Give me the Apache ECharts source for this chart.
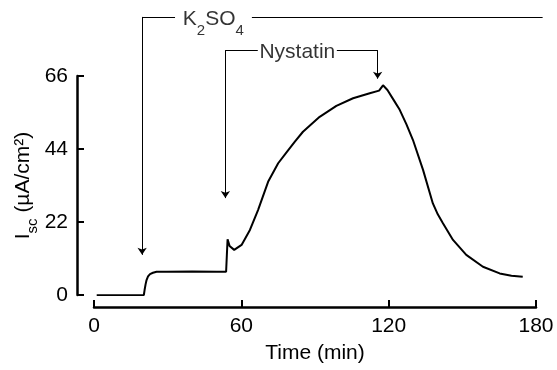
<!DOCTYPE html>
<html>
<head>
<meta charset="utf-8">
<script src="https://cdn.jsdelivr.net/npm/echarts@6/dist/echarts.min.js"></script>
<style>
  html, body { margin: 0; padding: 0; background: #fff; }
  #main { width: 557px; height: 370px; }
</style>
</head>
<body>
<div id="main"></div>
<script>
'use strict';

// time (min) and short-circuit current (uA/cm2)
const timeMin = [1.1, 10, 20.3, 20.6, 21.0, 21.4, 22.0, 22.8, 24.0, 25.5, 29.6, 40, 50, 53.8,
  54.1, 54.4, 55.2, 57.1, 60.1, 63.5, 66.8, 70.9, 75.0, 78.4, 81.8, 85.1, 91.9, 98.7, 105.5,
  112.3, 116.1, 117.7, 119.5, 122, 124.5, 127.2, 129.9, 134.0, 138.0, 140.0, 142.1, 146.2,
  151.6, 158.4, 165.2, 170.0, 174.6];
const iscValues = [-0.1, -0.1, 0.0, 1.5, 3.2, 4.5, 5.6, 6.3, 6.7, 7.0, 7.0, 7.1, 7.0, 7.0,
  12, 16.8, 14.8, 13.6, 15.1, 19.6, 25.6, 34.1, 39.7, 43.0, 46.2, 49.2, 53.7, 57.0, 59.3,
  60.8, 61.6, 63.2, 61.8, 58.8, 55.8, 51.5, 46.7, 37.7, 27.6, 24.3, 21.6, 16.6,
  12.1, 8.5, 6.5, 5.8, 5.5];

const xTicks = [0, 60, 120, 180];
const yTicks = [0, 22, 44, 66];

// annotation segments, in data units (time, current); the arrow segments end in an arrowhead
const bracketLines = [
  [[33.0, 83.8], [19.6, 83.8]],
  [[64.3, 83.8], [182.7, 83.8]],
  [[66.7, 73.8], [53.5, 73.8]],
  [[98.9, 73.8], [115.5, 73.8]]
];
const bracketArrows = [
  [[19.6, 83.8], [19.6, 12.1]],
  [[53.5, 73.8], [53.5, 29.2]],
  [[115.5, 73.8], [115.5, 65.2]]
];
const annotationLabels = [
  { name: 'K2SO4', value: [48.6, 83.8], text: '{n|K}{s|2}{n|SO}{s|4}' },
  { name: 'Nystatin', value: [82.8, 73.8], text: '{n|Nystatin}' }
];

const font = 'Liberation Sans, Arial, Helvetica, sans-serif';

const curve = timeMin.map((t, i) => [t, iscValues[i]]);

const labelRich = {
  n: { fontSize: 21, fontFamily: font, color: '#000', lineHeight: 24, verticalAlign: 'top' },
  s: { fontSize: 15, fontFamily: font, color: '#000', lineHeight: 24, padding: [14, 0, 0, 0], verticalAlign: 'top' }
};

function segments(list, arrow) {
  return {
    type: 'lines',
    coordinateSystem: 'cartesian2d',
    clip: false,
    silent: true,
    symbol: arrow ? ['none', 'arrow'] : ['none', 'none'],
    symbolSize: 7,
    lineStyle: { color: '#000', width: 1, opacity: 1, curveness: 0 },
    data: list.map(c => ({ coords: c }))
  };
}

const chart = echarts.init(document.getElementById('main'));

chart.setOption({
  animation: false,
  backgroundColor: '#fff',
  grid: { left: 94, right: 21, top: 76, bottom: 75, outerBoundsMode: 'none', containLabel: false },
  xAxis: {
    type: 'value',
    min: xTicks[0],
    max: xTicks[xTicks.length - 1],
    interval: 60,
    offset: 12,
    name: 'Time (min)',
    nameLocation: 'middle',
    nameGap: 36,
    nameMoveOverlap: false,
    nameTextStyle: { fontSize: 21, fontFamily: font, color: '#000' },
    axisLine: { onZero: false, lineStyle: { color: '#000', width: 2.5 } },
    axisTick: { inside: true, length: 7, lineStyle: { color: '#000', width: 2 } },
    axisLabel: { fontSize: 21, fontFamily: font, color: '#000', margin: 9 },
    splitLine: { show: false }
  },
  yAxis: {
    type: 'value',
    min: yTicks[0],
    max: yTicks[yTicks.length - 1],
    interval: 22,
    offset: 17,
    name: '{n|I}{s|sc}{n| (µA/cm²)}',
    nameLocation: 'middle',
    nameRotate: 90,
    nameGap: 40,
    nameMoveOverlap: false,
    nameTextStyle: {
      rich: {
        n: { fontSize: 21, fontFamily: font, color: '#000', lineHeight: 24, verticalAlign: 'top' },
        s: { fontSize: 15, fontFamily: font, color: '#000', lineHeight: 24, padding: [12, 0, 0, 0], verticalAlign: 'top' }
      }
    },
    axisLine: { show: true, onZero: false, lineStyle: { color: '#000', width: 2.5 } },
    axisTick: { show: true, inside: true, length: 7, lineStyle: { color: '#000', width: 2 } },
    axisLabel: { fontSize: 21, fontFamily: font, color: '#000', margin: 9 },
    splitLine: { show: false }
  },
  series: [
    {
      type: 'line',
      data: curve,
      showSymbol: false,
      smooth: false,
      lineStyle: { color: '#000', width: 2 },
      silent: true
    },
    segments(bracketLines, false),
    segments(bracketArrows, true),
    {
      type: 'scatter',
      clip: false,
      silent: true,
      symbolSize: 0,
      data: annotationLabels.map(d => ({ name: d.name, value: d.value })),
      label: {
        show: true,
        position: 'inside',
        offset: [0, 4],
        formatter: p => annotationLabels[p.dataIndex].text,
        rich: labelRich
      }
    }
  ]
});

window.onresize = function () {
  chart.resize();
};
</script>
</body>
</html>
